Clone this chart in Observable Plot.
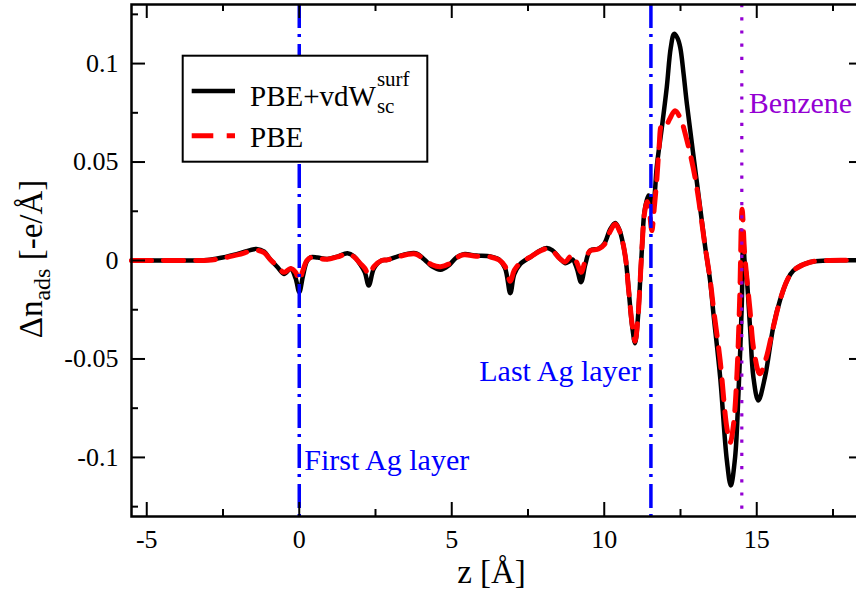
<!DOCTYPE html>
<html><head><meta charset="utf-8">
<script src="https://cdn.jsdelivr.net/npm/d3@7"></script>
<script src="https://cdn.jsdelivr.net/npm/@observablehq/plot@0.6"></script>
<style>
html,body{margin:0;padding:0;background:#fff;overflow:hidden;width:856px;height:594px;}
#chart svg{display:block;max-width:none !important;}
#chart svg text{font-family:"Liberation Serif","Times New Roman",serif !important;}
</style></head><body><div id="chart"></div>
<script>
// PBE+vdW^surf_sc profile: [z (Å), Δn_ads (-e/Å)]
const vdwProfile = [[-5.5,0],[-4.5,0],[-3.5,0],[-3.0,0.0002],[-2.56,0.0014],[-2.0,0.0035],[-1.4,0.0059],[-1.15,0.0045],[-0.95,0.0005],[-0.71,-0.0034],[-0.5,-0.0068],[-0.28,-0.0042],[-0.12,-0.009],[0,-0.0161],[0.12,-0.008],[0.25,-0.0005],[0.38,0.0017],[0.6,0.0015],[0.92,0.0008],[1.25,0.002],[1.58,0.0037],[1.8,0.002],[2.0,-0.002],[2.15,-0.006],[2.28,-0.0127],[2.45,-0.004],[2.7,0],[2.89,0.0003],[3.21,0.002],[3.81,0.0037],[4.1,0.0005],[4.35,-0.003],[4.63,-0.0047],[4.9,-0.0025],[5.15,0.0015],[5.39,0.0032],[5.8,0.0025],[6.27,0.002],[6.55,0.0005],[6.75,-0.004],[6.92,-0.0166],[7.05,-0.007],[7.25,-0.0017],[7.6,0.002],[7.9,0.0051],[8.12,0.0064],[8.3,0.0052],[8.55,0.001],[8.72,-0.0014],[8.85,-0.0005],[8.96,0.0005],[9.1,-0.004],[9.24,-0.011],[9.38,-0.002],[9.54,0.0051],[9.81,0.006],[10.0,0.0085],[10.2,0.016],[10.36,0.019],[10.5,0.0155],[10.58,0.011],[10.7,0.001],[10.8,-0.015],[10.92,-0.034],[11.01,-0.042],[11.1,-0.03],[11.15,-0.018],[11.25,0.01],[11.32,0.025],[11.45,0.033],[11.52,0.031],[11.59,0.027],[11.65,0.033],[11.72,0.0474],[11.89,0.0677],[12.05,0.088],[12.18,0.108],[12.29,0.1151],[12.4,0.113],[12.49,0.1083],[12.6,0.095],[12.71,0.0795],[13.03,0.0406],[13.31,0.0068],[13.47,-0.0102],[13.58,-0.027],[13.8,-0.0592],[14.02,-0.1015],[14.15,-0.1142],[14.29,-0.1],[14.4,-0.0677],[14.51,-0.022],[14.555,0.014],[14.6,0],[14.67,-0.0085],[14.78,-0.0339],[14.89,-0.0592],[15.05,-0.0711],[15.27,-0.0592],[15.54,-0.0339],[15.76,-0.0203],[16.0,-0.01],[16.2,-0.0051],[16.74,-0.0009],[17.3,0],[18.5,0]];
// PBE profile
const pbeProfile = [[-5.5,0],[-4.5,0],[-3.5,0],[-3.0,0.0001],[-2.56,0.001],[-2.0,0.003],[-1.4,0.0052],[-1.15,0.004],[-0.95,0.0005],[-0.71,-0.003],[-0.5,-0.006],[-0.28,-0.004],[-0.12,-0.006],[0,-0.0102],[0.12,-0.005],[0.25,0],[0.38,0.0015],[0.6,0.0012],[0.92,0.0006],[1.25,0.0018],[1.58,0.0033],[1.8,0.0018],[2.0,-0.0015],[2.15,-0.004],[2.28,-0.0072],[2.45,-0.003],[2.7,0],[2.89,0.0003],[3.21,0.0018],[3.81,0.0033],[4.1,0.0005],[4.35,-0.0022],[4.63,-0.0032],[4.9,-0.0018],[5.15,0.0013],[5.39,0.0029],[5.8,0.0022],[6.27,0.0018],[6.55,0.0003],[6.75,-0.003],[6.92,-0.0105],[7.05,-0.005],[7.25,-0.0012],[7.6,0.002],[7.9,0.0048],[8.12,0.006],[8.3,0.005],[8.55,0.0008],[8.72,-0.0008],[8.85,0.0015],[8.96,0.0028],[9.1,-0.001],[9.24,-0.006],[9.38,0],[9.54,0.005],[9.81,0.0058],[10.0,0.008],[10.2,0.015],[10.36,0.0185],[10.5,0.015],[10.58,0.011],[10.7,0.001],[10.8,-0.015],[10.92,-0.033],[11.01,-0.041],[11.1,-0.03],[11.15,-0.018],[11.25,0.01],[11.32,0.024],[11.41,0.03],[11.48,0.025],[11.56,0.0152],[11.63,0.025],[11.72,0.0406],[11.8,0.058],[11.87,0.068],[11.94,0.0672],[12.05,0.069],[12.15,0.072],[12.32,0.0761],[12.5,0.072],[12.71,0.061],[12.98,0.042],[13.31,0.0068],[13.47,-0.0095],[13.58,-0.024],[13.8,-0.0508],[14.02,-0.085],[14.13,-0.0924],[14.24,-0.083],[14.35,-0.058],[14.44,-0.02],[14.52,0.026],[14.6,0.004],[14.67,-0.008],[14.78,-0.0254],[14.9,-0.045],[15.1,-0.0575],[15.3,-0.05],[15.54,-0.034],[15.76,-0.0203],[16.0,-0.01],[16.2,-0.0051],[16.74,-0.0009],[17.3,0],[18.5,0]];

const xMajor = [-5, 0, 5, 10, 15];
const xMinor = [-2.5, 2.5, 7.5, 12.5, 17.5];
const yMajor = [-0.1, -0.05, 0, 0.05, 0.1];
const yMinor = [-0.125, -0.075, -0.025, 0.025, 0.075, 0.125];
const agLayers = [0, 11.53];
const benzenePlane = [14.51];
const layerLabels = ["First Ag layer", "Last Ag layer"];
const benzeneLabel = ["Benzene"];
const seriesNames = ["PBE+vdW", "PBE"];

const W = 864, H = 594, mL = 131, mR = 1, mT = 4, mB = 78;
const pw = W - mL - mR, ph = H - mT - mB;
const font = "Liberation Serif, Times New Roman, serif";

const chart = Plot.plot({
  width: W, height: H,
  marginLeft: mL, marginRight: mR, marginTop: mT, marginBottom: mB,
  style: {fontFamily: font, fontSize: "26px", background: "white", color: "black", maxWidth: "none"},
  x: {domain: [-5.5, 18.5], axis: null},
  y: {domain: [-0.13, 0.13], axis: null},
  marks: [
    Plot.line(vdwProfile, {x: d => d[0], y: d => d[1], stroke: "black", strokeWidth: 4.5, curve: "catmull-rom"}),
    Plot.line(pbeProfile, {x: d => d[0], y: d => d[1], stroke: "#ff0000", strokeWidth: 5, strokeDasharray: "20,12", curve: "catmull-rom"}),
    Plot.ruleX(agLayers, {x: d => d, stroke: "#0000ff", strokeWidth: 3.5, strokeDasharray: "24,6,3,7"}),
    Plot.ruleX(benzenePlane, {x: d => d, stroke: "#9400d3", strokeWidth: 3.2, strokeDasharray: "3.2,10"}),
    Plot.text([layerLabels[0]], {x: agLayers[0], frameAnchor: "bottom", dy: -47, dx: 5, textAnchor: "start", fill: "#0000ff", fontSize: 30}),
    Plot.text([layerLabels[1]], {x: agLayers[1], frameAnchor: "bottom", dy: -136, dx: -10, textAnchor: "end", fill: "#0000ff", fontSize: 30}),
    Plot.text(benzeneLabel, {x: benzenePlane[0], frameAnchor: "top", dy: 87, dx: 7, textAnchor: "start", fill: "#9400d3", fontSize: 30}),
    // inward ticks on all four sides
    Plot.tickX(xMajor, {x: d => d, insetTop: ph - 14, stroke: "black", strokeWidth: 2}),
    Plot.tickX(xMajor, {x: d => d, insetBottom: ph - 14, stroke: "black", strokeWidth: 2}),
    Plot.tickX(xMinor, {x: d => d, insetTop: ph - 7, stroke: "black", strokeWidth: 2}),
    Plot.tickX(xMinor, {x: d => d, insetBottom: ph - 7, stroke: "black", strokeWidth: 2}),
    Plot.tickY(yMajor, {y: d => d, insetRight: pw - 14, stroke: "black", strokeWidth: 2}),
    Plot.tickY(yMajor, {y: d => d, insetLeft: pw - 14, stroke: "black", strokeWidth: 2}),
    Plot.tickY(yMinor, {y: d => d, insetRight: pw - 7, stroke: "black", strokeWidth: 2}),
    Plot.tickY(yMinor, {y: d => d, insetLeft: pw - 7, stroke: "black", strokeWidth: 2}),
    Plot.frame({stroke: "black", strokeWidth: 2.5}),
    Plot.axisX({ticks: xMajor, tickSize: 0, tickPadding: 13, tickFormat: d => String(d), fontSize: 26, label: null}),
    Plot.axisY({ticks: yMajor, tickSize: 0, tickPadding: 13, tickFormat: d => String(d), fontSize: 26, label: null}),
    Plot.text(["z [Å]"], {frameAnchor: "bottom", dy: 66, dx: -6, fontSize: 33, fill: "black"})
  ]
});
document.getElementById("chart").appendChild(chart);

// Y-axis title with subscript
const svg = d3.select(chart);
const yt = svg.append("text")
  .attr("transform", "translate(42,259) rotate(-90)")
  .attr("text-anchor", "middle")
  .attr("font-size", 33).attr("fill", "black");
yt.append("tspan").text("Δn");
yt.append("tspan").attr("font-size", 24).attr("dy", 8).text("ads");
yt.append("tspan").attr("dy", -8).text(" [-e/Å]");

// Legend
const lg = svg.append("g").attr("fill", "black").attr("text-anchor", "start");
lg.append("rect").attr("x", 182.7).attr("y", 55.7).attr("width", 244.6).attr("height", 106)
  .attr("fill", "white").attr("stroke", "black").attr("stroke-width", 2);
lg.append("line").attr("x1", 191.7).attr("x2", 235).attr("y1", 91).attr("y2", 91)
  .attr("stroke", "black").attr("stroke-width", 4.5);
lg.append("line").attr("x1", 191.7).attr("x2", 235).attr("y1", 135.7).attr("y2", 135.7)
  .attr("stroke", "#ff0000").attr("stroke-width", 5).attr("stroke-dasharray", "21.6,13.4");
const t1 = lg.append("text").attr("x", 250).attr("y", 105.5).attr("font-size", 29).text(seriesNames[0]);
const w1 = t1.node().getComputedTextLength();
lg.append("text").attr("x", 250 + w1 + 1).attr("y", 86).attr("font-size", 21).text("surf");
lg.append("text").attr("x", 250 + w1 + 1).attr("y", 112.5).attr("font-size", 21).text("sc");
lg.append("text").attr("x", 250).attr("y", 147).attr("font-size", 29).text(seriesNames[1]);
</script>
</body></html>
